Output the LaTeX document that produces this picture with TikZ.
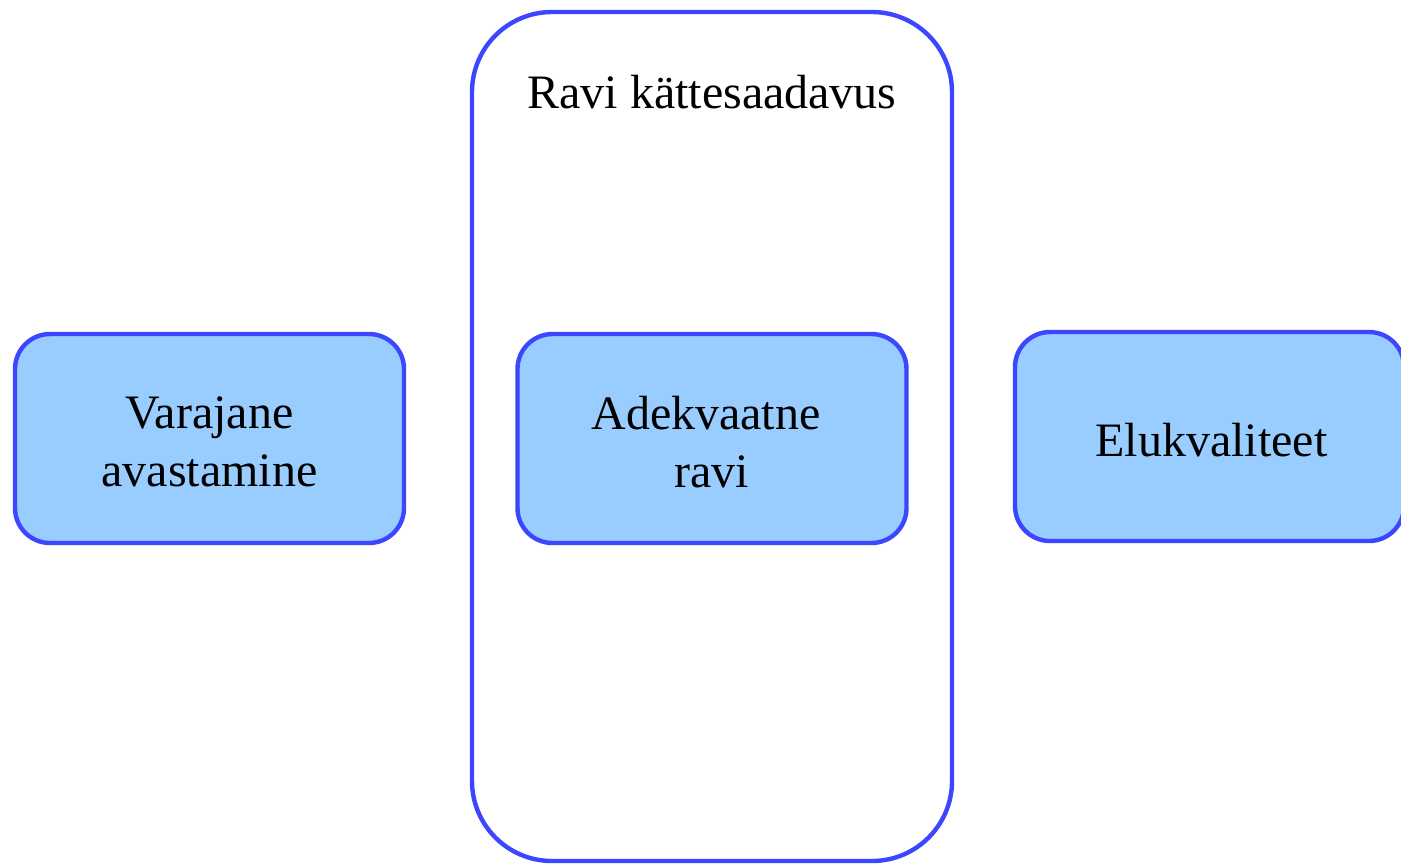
\documentclass[tikz,border=0pt]{standalone}
\usepackage{fontspec}
\setmainfont{Liberation Serif}
\definecolor{edge}{HTML}{3C46FF}
\definecolor{boxfill}{HTML}{99CCFF}
\begin{document}
\begin{tikzpicture}[x=0.5pt,y=-0.5pt,
  txt/.style={font=\fontsize{24}{29}\selectfont, align=center, text=black},
  box/.style={draw=edge, fill=boxfill, line width=2.2pt, rounded corners=17.5pt,
    minimum width=194.5pt, minimum height=104.5pt, inner sep=0pt},
  cont/.style={draw=edge, line width=2.2pt, rounded corners=40pt,
    minimum width=240pt, minimum height=424.5pt, inner sep=0pt}]
\useasboundingbox (0,0) rectangle (1401,863);
\begin{scope}
\clip (0,0) rectangle (1401,863);
\node[cont] (container) at (712,436.5) {};
\node[txt] (title) at (712,92) {Ravi kättesaadavus};
\node[box] (early) at (209.5,438.5) {};
\node[box] (treat) at (712,438.5) {};
\node[box] (qol) at (1209.5,436.5) {};
\node[txt] (earlytxt) at (209.5,442) {Varajane\\avastamine};
\node[txt] (treattxt) at (712,442) {Adekvaatne\hspace*{6pt}\\ravi};
\node[txt] (qoltxt) at (1211.5,440.5) {Elukvaliteet};
\end{scope}
\end{tikzpicture}
\end{document}
